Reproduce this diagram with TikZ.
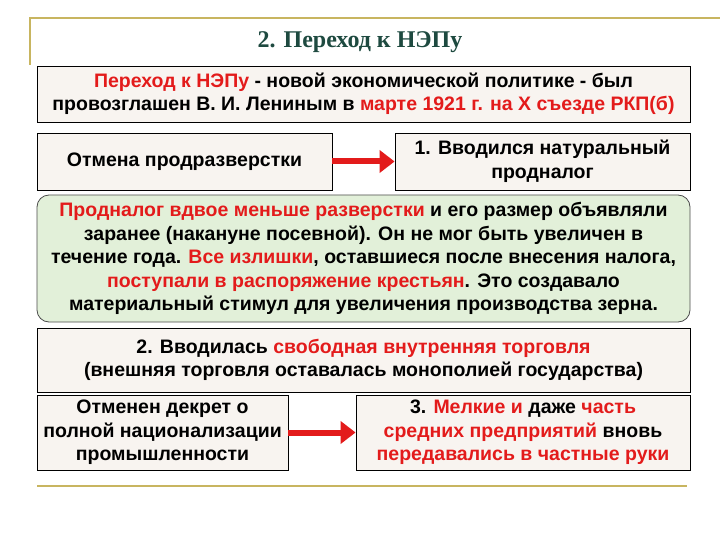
\documentclass[tikz,border=0pt]{standalone}
\usepackage{fontspec}
\setmainfont{Liberation Serif}
\newfontfamily\bsans{Liberation Sans}
\usetikzlibrary{arrows.meta}
\definecolor{gold}{HTML}{C8B560}
\definecolor{teal}{HTML}{1E4A40}
\definecolor{rd}{HTML}{E31B1B}
\definecolor{boxf}{HTML}{F8F4F0}
\definecolor{grn}{HTML}{E2F0D9}
\newcommand{\R}[1]{\textcolor{rd}{#1}}
\tikzset{
 bx/.style={draw=black,line width=0.8pt,fill=boxf,font=\bsans\bfseries\fontsize{19.5}{23.5}\selectfont,align=center,inner sep=0pt},
 arr/.style={draw=rd,line width=6pt,-{Triangle[length=15pt,width=22pt]}}
}
\begin{document}
\begin{tikzpicture}[x=1pt,y=-1pt]
\useasboundingbox (0,0) rectangle (720,540);
\fill[white] (0,0) rectangle (720,540);
\draw[gold,line width=1.5pt] (30,65) -- (30,18) -- (720,18);
\draw[gold,line width=2pt] (37,486) -- (687,486);
\node[text=teal,font=\fontsize{24}{26}\selectfont\bfseries] (title) at (360,42) {2. Переход к НЭПу};
\node[bx,minimum width=653pt,minimum height=56pt] (b1) at (363.5,94) {\R{Переход к НЭПу} - новой экономической политике - был\\провозглашен В. И. Лениным в \R{марте 1921 г. на X съезде РКП(б)}};
\node[bx,minimum width=295pt,minimum height=57pt] (b2l) at (184.5,161.5) {Отмена продразверстки};
\node[bx,minimum width=295pt,minimum height=57pt] (b2r) at (542.5,161.5) {1. Вводился натуральный\\продналог};
\draw[arr] (b2l.east) -- (b2r.west);
\node[bx,fill=grn,rounded corners=12pt,minimum width=653pt,minimum height=127pt,draw=black!70] (g) at (363.5,258.5) {\R{Продналог вдвое меньше разверстки} и его размер объявляли\\заранее (накануне посевной). Он не мог быть увеличен в\\течение года. \R{Все излишки}, оставшиеся после внесения налога,\\\R{поступали в распоряжение крестьян}. Это создавало\\материальный стимул для увеличения производства зерна.};
\node[bx,minimum width=653pt,minimum height=64pt] (b3) at (363.5,360) {2. Вводилась \R{свободная внутренняя торговля}\\(внешняя торговля оставалась монополией государства)};
\node[bx,minimum width=251pt,minimum height=75pt] (b4l) at (162.5,432.5) {Отменен декрет о\\полной национализации\\промышленности};
\node[bx,minimum width=334pt,minimum height=75pt] (b4r) at (523,432.5) {3. \R{Мелкие и} даже \R{часть}\\\R{средних предприятий} вновь\\\R{передавались в частные руки}};
\draw[arr] (b4l.east) -- (b4r.west);
\end{tikzpicture}
\end{document}
